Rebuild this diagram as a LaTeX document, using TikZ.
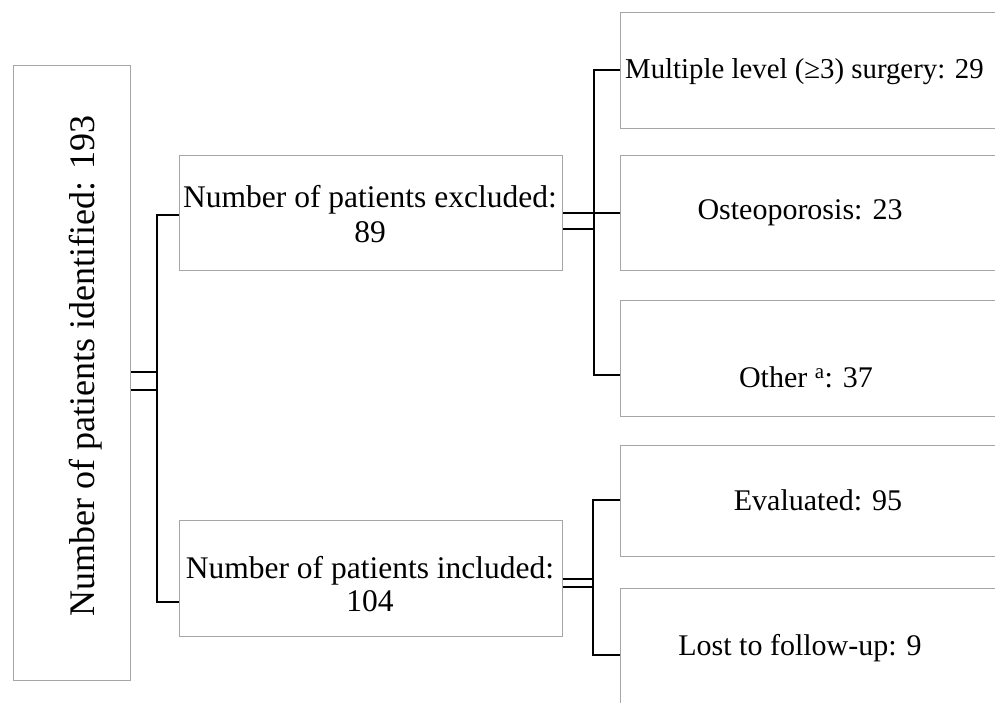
\documentclass[tikz,border=0pt]{standalone}
\usepackage{fontspec}
\setmainfont{Liberation Serif}
\definecolor{boxGrey}{HTML}{A6A6A6}
\tikzset{
  frame/.style={draw=boxGrey,line width=1.3pt,inner sep=0pt,anchor=north west},
  link/.style={draw=black,line width=2.1pt},
  lbl/.style={font=\fontsize{30}{34}\selectfont,align=center,inner sep=0pt},
}
\begin{document}
\begin{tikzpicture}[x=1pt,y=-1pt]
    \useasboundingbox (0,0) rectangle (995,702);
    \clip (0,0) rectangle (995,702);
    % --- left column
    \node[frame,minimum width=117pt,minimum height=615pt] at (13,65) (ident) {};
    \node[lbl,rotate=90,font=\fontsize{36}{40}\selectfont] at (86,366) (identT)
      {Number of patients identified: 193};
    % --- middle column
    \node[frame,minimum width=383pt,minimum height=115pt] at (179,155) (excl) {};
    \node[frame,minimum width=383pt,minimum height=116pt] at (179,520) (incl) {};
    \node[lbl,font=\fontsize{31.5}{35}\selectfont] at (370,214) (exclT) {Number of patients excluded:\\89};
    \node[lbl,font=\fontsize{31.5}{33}\selectfont] at (370,584) (inclT) {Number of patients included:\\104};
    % --- right column (runs off the page)
    \node[frame,minimum width=400pt,minimum height=116pt] at (620,12)  (multi) {};
    \node[frame,minimum width=400pt,minimum height=115pt] at (620,155) (osteo) {};
    \node[frame,minimum width=400pt,minimum height=116pt] at (620,300) (other) {};
    \node[frame,minimum width=400pt,minimum height=111pt] at (620,445) (eval)  {};
    \node[frame,minimum width=400pt,minimum height=130pt] at (620,588) (lost)  {};
    \node[lbl,anchor=west,font=\fontsize{28.8}{34}\selectfont] at (625,72) (multiT) {Multiple level (≥3) surgery: 29};
    \node[lbl] at (800,213) (osteoT) {Osteoporosis: 23};
    \node[lbl] at (806,377) (otherT) {Other \textsuperscript{a}: 37};
    \node[lbl] at (818,500) (evalT)  {Evaluated: 95};
    \node[lbl] at (800,648) (lostT)  {Lost to follow-up: 9};

    % --- joints
    \coordinate (jA) at (157,215);
    \coordinate (jB) at (157,602);
    \coordinate (jC) at (594,70);
    \coordinate (jD) at (594,375);
    \coordinate (jE) at (593,500);
    \coordinate (jF) at (593,655);

    % identified -> excluded / included
    \draw[link] (ident.east |- 0,372) -- (jA |- 0,372);
    \draw[link] (ident.east |- 0,390) -- (jA |- 0,390);
    \draw[link] (excl.west |- jA) -- (jA) -- (jB) -- (incl.west |- jB);
    % excluded -> reasons
    \draw[link] (multi.west |- jC) -- (jC) -- (jD) -- (other.west |- jD);
    \draw[link] (excl.east |- 0,213) -- (osteo.west |- 0,213);
    \draw[link] (excl.east |- 0,229) -- (jD |- 0,229);
    % included -> outcome
    \draw[link] (eval.west |- jE) -- (jE) -- (jF) -- (lost.west |- jF);
    \draw[link] (incl.east |- 0,579) -- (jE |- 0,579);
    \draw[link] (incl.east |- 0,587) -- (jE |- 0,587);
\end{tikzpicture}
\end{document}
